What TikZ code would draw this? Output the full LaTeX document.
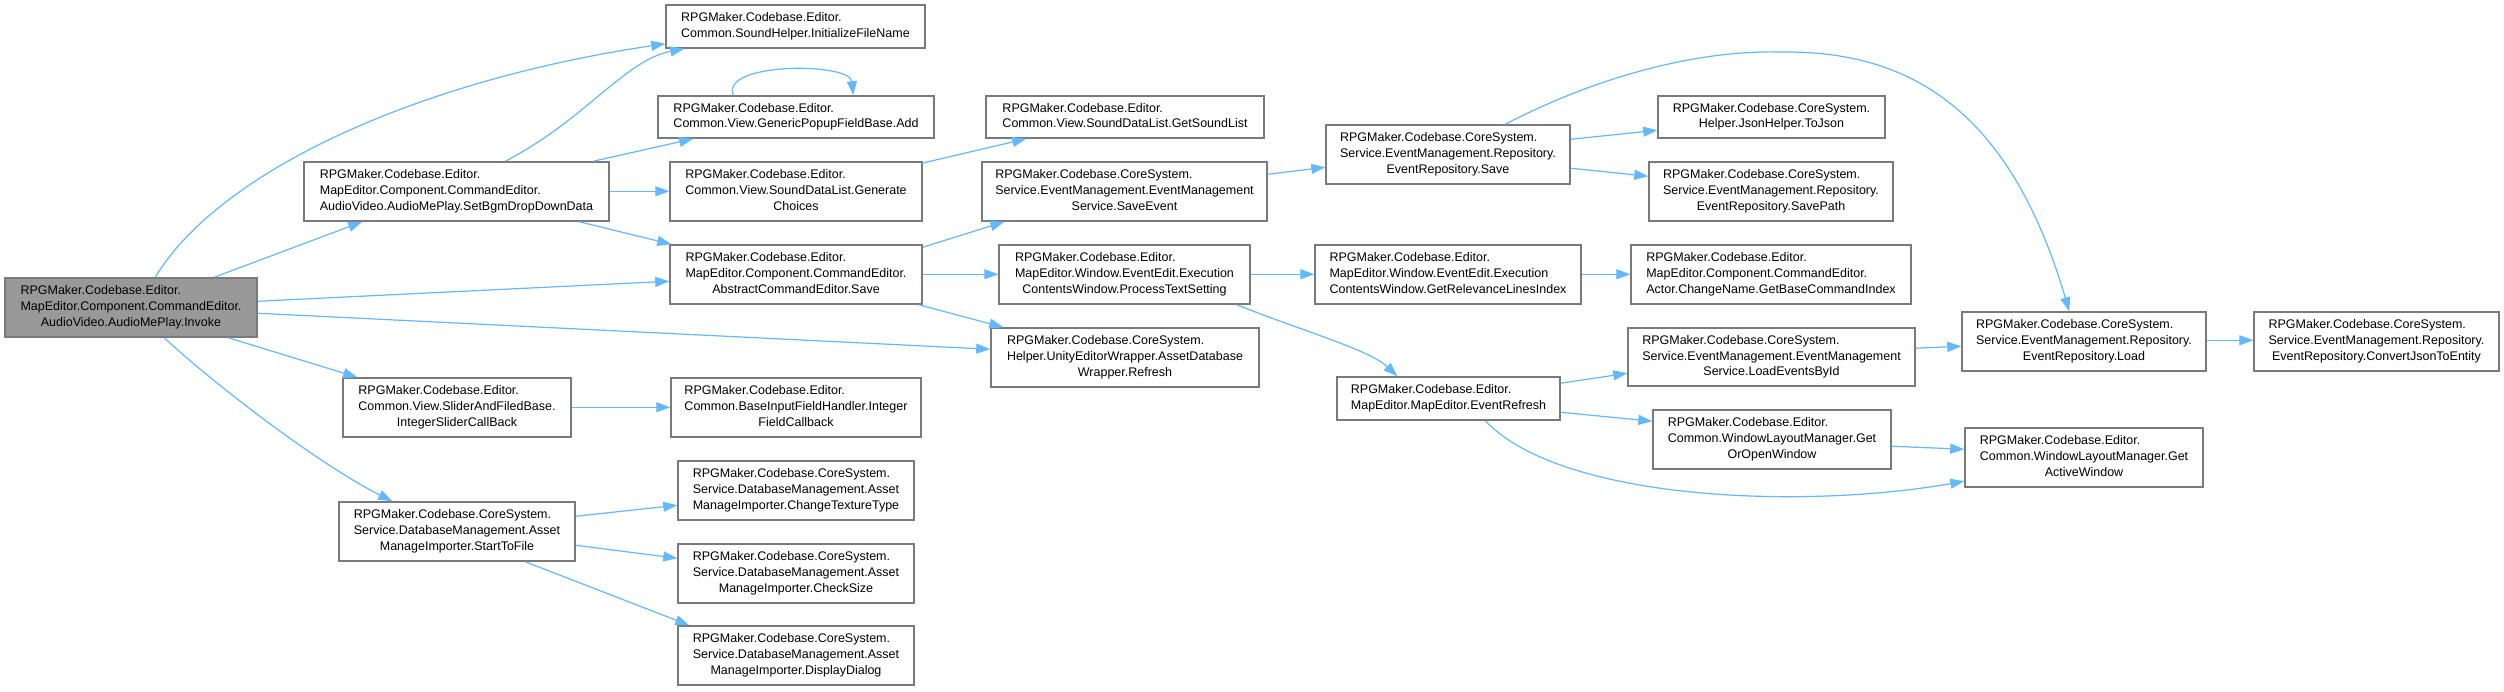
\documentclass[tikz,border=0pt]{standalone}
\usepackage{fontspec}
\setmainfont{Liberation Sans}
\usetikzlibrary{arrows.meta,calc}
\definecolor{edgeblue}{HTML}{63B8FF}
\definecolor{boxgray}{HTML}{7A7A7A}
\definecolor{rootfill}{HTML}{999999}
\newcommand\dlab[2]{\begin{tabular}{@{}l@{}}#1\\\multicolumn{1}{@{}c@{}}{#2}\end{tabular}}
\begin{document}
\begin{tikzpicture}[x=1pt,y=-1pt,
  box/.style={draw=boxgray, line width=1.5pt, fill=white, inner sep=0pt, font=\fontsize{12.5}{15.7}\selectfont},
  root/.style={box, fill=rootfill},
  edge/.style={draw=edgeblue, line width=1.2pt, -{Triangle[length=14pt,width=10pt]}}]
\fill[white] (0,0) rectangle (2504,691);
\useasboundingbox (0,0) rectangle (2504,691);

% nodes
\node[root, minimum width=252pt, minimum height=59pt] (inv) at (131,307.5) {\dlab{RPGMaker.Codebase.Editor.\\MapEditor.Component.CommandEditor.}{AudioVideo.AudioMePlay.Invoke}};
\node[box, minimum width=259pt, minimum height=43pt] (shi) at (795.5,26.5) {\dlab{RPGMaker.Codebase.Editor.}{Common.SoundHelper.InitializeFileName}};
\node[box, minimum width=276pt, minimum height=42pt] (gpa) at (796,117) {\dlab{RPGMaker.Codebase.Editor.}{Common.View.GenericPopupFieldBase.Add}};
\node[box, minimum width=305pt, minimum height=59pt] (sbg) at (456.5,191.5) {\dlab{RPGMaker.Codebase.Editor.\\MapEditor.Component.CommandEditor.}{AudioVideo.AudioMePlay.SetBgmDropDownData}};
\node[box, minimum width=252pt, minimum height=59pt] (gch) at (796,191.5) {\dlab{RPGMaker.Codebase.Editor.\\Common.View.SoundDataList.Generate}{Choices}};
\node[box, minimum width=252pt, minimum height=59pt] (ace) at (796,274.5) {\dlab{RPGMaker.Codebase.Editor.\\MapEditor.Component.CommandEditor.}{AbstractCommandEditor.Save}};
\node[box, minimum width=268pt, minimum height=59pt] (uew) at (1125,357.5) {\dlab{RPGMaker.Codebase.CoreSystem.\\Helper.UnityEditorWrapper.AssetDatabase}{Wrapper.Refresh}};
\node[box, minimum width=228pt, minimum height=59pt] (sfb) at (457,407.5) {\dlab{RPGMaker.Codebase.Editor.\\Common.View.SliderAndFiledBase.}{IntegerSliderCallBack}};
\node[box, minimum width=250pt, minimum height=59pt] (ifc) at (796,407.5) {\dlab{RPGMaker.Codebase.Editor.\\Common.BaseInputFieldHandler.Integer}{FieldCallback}};
\node[box, minimum width=236pt, minimum height=59pt] (stf) at (457,531.5) {\dlab{RPGMaker.Codebase.CoreSystem.\\Service.DatabaseManagement.Asset}{ManageImporter.StartToFile}};
\node[box, minimum width=236pt, minimum height=59pt] (ctt) at (796,490.5) {\dlab{RPGMaker.Codebase.CoreSystem.\\Service.DatabaseManagement.Asset}{ManageImporter.ChangeTextureType}};
\node[box, minimum width=236pt, minimum height=59pt] (cks) at (796,573.5) {\dlab{RPGMaker.Codebase.CoreSystem.\\Service.DatabaseManagement.Asset}{ManageImporter.CheckSize}};
\node[box, minimum width=236pt, minimum height=59pt] (ddl) at (796,655.5) {\dlab{RPGMaker.Codebase.CoreSystem.\\Service.DatabaseManagement.Asset}{ManageImporter.DisplayDialog}};
\node[box, minimum width=278pt, minimum height=42pt] (gsl) at (1125,117) {\dlab{RPGMaker.Codebase.Editor.}{Common.View.SoundDataList.GetSoundList}};
\node[box, minimum width=285pt, minimum height=59pt] (sev) at (1124.5,191.5) {\dlab{RPGMaker.Codebase.CoreSystem.\\Service.EventManagement.EventManagement}{Service.SaveEvent}};
\node[box, minimum width=244pt, minimum height=59pt] (ers) at (1448,154.5) {\dlab{RPGMaker.Codebase.CoreSystem.\\Service.EventManagement.Repository.}{EventRepository.Save}};
\node[box, minimum width=227pt, minimum height=42pt] (tjs) at (1771.5,117) {\dlab{RPGMaker.Codebase.CoreSystem.}{Helper.JsonHelper.ToJson}};
\node[box, minimum width=244pt, minimum height=59pt] (spt) at (1771,191.5) {\dlab{RPGMaker.Codebase.CoreSystem.\\Service.EventManagement.Repository.}{EventRepository.SavePath}};
\node[box, minimum width=251pt, minimum height=59pt] (pts) at (1124.5,274.5) {\dlab{RPGMaker.Codebase.Editor.\\MapEditor.Window.EventEdit.Execution}{ContentsWindow.ProcessTextSetting}};
\node[box, minimum width=266pt, minimum height=59pt] (grl) at (1448,274.5) {\dlab{RPGMaker.Codebase.Editor.\\MapEditor.Window.EventEdit.Execution}{ContentsWindow.GetRelevanceLinesIndex}};
\node[box, minimum width=280pt, minimum height=59pt] (gbc) at (1771,274.5) {\dlab{RPGMaker.Codebase.Editor.\\MapEditor.Component.CommandEditor.}{Actor.ChangeName.GetBaseCommandIndex}};
\node[box, minimum width=287pt, minimum height=58pt] (lei) at (1771.5,357) {\dlab{RPGMaker.Codebase.CoreSystem.\\Service.EventManagement.EventManagement}{Service.LoadEventsById}};
\node[box, minimum width=223pt, minimum height=43pt] (erf) at (1448.5,398.5) {\dlab{RPGMaker.Codebase.Editor.}{MapEditor.MapEditor.EventRefresh}};
\node[box, minimum width=238pt, minimum height=59pt] (gow) at (1772,439.5) {\dlab{RPGMaker.Codebase.Editor.\\Common.WindowLayoutManager.Get}{OrOpenWindow}};
\node[box, minimum width=244pt, minimum height=59pt] (lod) at (2084,341.5) {\dlab{RPGMaker.Codebase.CoreSystem.\\Service.EventManagement.Repository.}{EventRepository.Load}};
\node[box, minimum width=245pt, minimum height=59pt] (cje) at (2376.5,341.5) {\dlab{RPGMaker.Codebase.CoreSystem.\\Service.EventManagement.Repository.}{EventRepository.ConvertJsonToEntity}};
\node[box, minimum width=238pt, minimum height=59pt] (gaw) at (2084,457.5) {\dlab{RPGMaker.Codebase.Editor.\\Common.WindowLayoutManager.Get}{ActiveWindow}};

% edges
\draw[edge] ($(inv.north west)+(151,0)$) .. controls (220,170) and (420,80) .. ($(shi.south west)+(0,-5)$);
\draw[edge] ($(inv.north west)+(210,0)$) -- ($(sbg.south west)+(59,0)$);
\draw[edge] ($(inv.north east)+(0,24)$) -- ($(ace.north west)+(0,37)$);
\draw[edge] ($(inv.north east)+(0,36)$) -- ($(uew.north west)+(0,22)$);
\draw[edge] ($(inv.south west)+(224,0)$) -- ($(sfb.north west)+(15,0)$);
\draw[edge] ($(inv.south west)+(160,0)$) .. controls (215,385) and (320,465) .. ($(stf.north west)+(54,0)$);
\draw[edge] ($(sbg.north west)+(202,0)$) .. controls (585,120) and (625,60) .. ($(shi.south west)+(19,0)$);
\draw[edge] ($(sbg.north west)+(290,0)$) -- ($(gpa.south west)+(36,0)$);
\draw[edge] ($(sbg.north east)+(0,30)$) -- ($(gch.north west)+(0,30)$);
\draw[edge] ($(sbg.south west)+(276,0)$) -- ($(ace.north west)+(2,0)$);
\draw[edge] ($(gpa.north west)+(76,0)$) .. controls (720,62) and (850,62) .. ($(gpa.north west)+(196,0)$);
\draw[edge] ($(gch.north east)+(-1,2)$) -- ($(gsl.south west)+(41,0)$);
\draw[edge] ($(ace.north east)+(0,3)$) -- ($(sev.south west)+(23,0)$);
\draw[edge] ($(ace.north east)+(0,30)$) -- ($(pts.north west)+(0,30)$);
\draw[edge] ($(ace.south east)+(-4,0)$) -- ($(uew.north west)+(13,0)$);
\draw[edge] ($(sev.north east)+(0,13)$) -- ($(ers.north west)+(0,43)$);
\draw[edge] ($(ers.north east)+(0,15)$) -- ($(tjs.north west)+(0,35)$);
\draw[edge] ($(ers.north east)+(0,44)$) -- ($(spt.north west)+(0,15)$);
\draw[edge] ($(ers.north west)+(180,0)$) .. controls (1600,75) and (1700,50) .. (1780,52) .. controls (1910,50) and (2010,110) .. ($(lod.north west)+(108,0)$);
\draw[edge] ($(pts.north east)+(0,30)$) -- ($(grl.north west)+(0,30)$);
\draw[edge] ($(pts.south east)+(-14,0)$) .. controls (1300,330) and (1370,350) .. ($(erf.north west)+(61,0)$);
\draw[edge] ($(grl.north east)+(0,30)$) -- ($(gbc.north west)+(0,30)$);
\draw[edge] ($(erf.north east)+(0,7)$) -- ($(lei.north west)+(0,46)$);
\draw[edge] ($(erf.north east)+(0,36)$) -- ($(gow.north west)+(0,12)$);
\draw[edge] ($(erf.south west)+(149,0)$) .. controls (1560,500) and (1800,510) .. ($(gaw.north west)+(0,54)$);
\draw[edge] ($(lei.north east)+(0,21)$) -- ($(lod.north west)+(0,35)$);
\draw[edge] ($(lod.north east)+(0,29)$) -- ($(cje.north west)+(0,29)$);
\draw[edge] ($(gow.north east)+(0,37)$) -- ($(gaw.north west)+(0,22)$);
\draw[edge] ($(sfb.north east)+(0,30)$) -- ($(ifc.north west)+(0,30)$);
\draw[edge] ($(stf.north east)+(0,15)$) -- ($(ctt.north west)+(0,45)$);
\draw[edge] ($(stf.north east)+(0,44)$) -- ($(cks.north west)+(0,15)$);
\draw[edge] ($(stf.south west)+(187,0)$) -- ($(ddl.north west)+(12,0)$);
\end{tikzpicture}
\end{document}
